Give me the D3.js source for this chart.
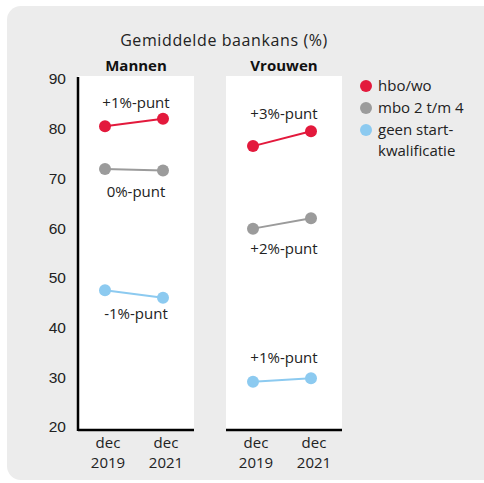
<!DOCTYPE html>
<html>
<head>
<meta charset="utf-8">
<script src="https://cdn.jsdelivr.net/npm/d3@7"></script>
<style>
  body { margin: 0; background: #fff; }
  svg { display: block; font-family: "Open Sans", "DejaVu Sans", sans-serif; }
</style>
</head>
<body>
<div id="chart"></div>
<script>
"use strict";

const groups = ["Mannen", "Vrouwen"];
const periods = ["dec 2019", "dec 2021"];
const series = ["hbo/wo", "mbo 2 t/m 4", "geen startkwalificatie"];
const legendLabels = [["hbo/wo"], ["mbo 2 t/m 4"], ["geen start-", "kwalificatie"]];
const colors = ["#e3193c", "#9b9b9b", "#8ccaf0"];
const mannenValues = [[80.5, 82.0], [71.9, 71.6], [47.5, 46.0]];
const vrouwenValues = [[76.5, 79.5], [59.9, 62.0], [29.1, 29.8]];
const mannenChanges = ["+1%-punt", "0%-punt", "-1%-punt"];
const vrouwenChanges = ["+3%-punt", "+2%-punt", "+1%-punt"];
const yTicks = [20, 30, 40, 50, 60, 70, 80, 90];

const width = 484, height = 483;

const svg = d3.select("#chart").append("svg")
    .attr("width", width)
    .attr("height", height);

svg.append("rect")
    .attr("x", 7).attr("y", 6)
    .attr("width", 500).attr("height", 474)
    .attr("rx", 14)
    .attr("fill", "#ececec");

const y = d3.scaleLinear().domain([20, 90]).range([427, 79]);
const panelX = d3.scaleBand().domain(groups).range([78, 342]).paddingInner(32 / 148);

svg.append("text")
    .attr("x", 224).attr("y", 46)
    .attr("text-anchor", "middle")
    .attr("font-size", 16)
    .attr("letter-spacing", 0.6)
    .attr("fill", "#222")
    .text("Gemiddelde baankans (%)");

// y axis
const yAxis = svg.append("g")
    .attr("transform", `translate(${panelX("Mannen")},0)`)
    .call(d3.axisLeft(y).tickValues(yTicks).tickSize(0).tickPadding(12));
yAxis.select(".domain").remove();
yAxis.selectAll("text")
    .attr("font-size", 15.5)
    .attr("fill", "#222")
    .attr("font-family", "inherit");

const panelData = [
    {name: "Mannen", values: mannenValues, changes: mannenChanges, offsets: [-20, 22, 20]},
    {name: "Vrouwen", values: vrouwenValues, changes: vrouwenChanges, offsets: [-25, 26, -22]}
];

panelData.forEach((p, pi) => {
    const x0 = panelX(p.name);
    const bw = panelX.bandwidth();
    const g = svg.append("g").attr("transform", `translate(${x0},0)`);
    const x = d3.scalePoint().domain(periods).range([27, 85]);

    g.append("rect")
        .attr("x", 0).attr("y", 76)
        .attr("width", bw).attr("height", y(20) + 3 - 76)
        .attr("fill", "#fff");

    g.append("text")
        .attr("x", bw / 2).attr("y", 71)
        .attr("text-anchor", "middle")
        .attr("font-size", 15)
        .attr("font-weight", "bold")
        .attr("fill", "#111")
        .text(p.name);

    // bottom axis line
    g.append("line")
        .attr("x1", 0).attr("x2", bw)
        .attr("y1", y(20) + 3).attr("y2", y(20) + 3)
        .attr("stroke", "#000").attr("stroke-width", 2.5);
    if (pi === 0) {
        g.append("line")
            .attr("x1", 0).attr("x2", 0)
            .attr("y1", 77).attr("y2", y(20) + 4)
            .attr("stroke", "#000").attr("stroke-width", 2.5);
    }

    periods.forEach(per => {
        const t = g.append("text")
            .attr("text-anchor", "middle")
            .attr("font-size", 15)
            .attr("fill", "#222");
        per.split(" ").forEach((w, i) => {
            t.append("tspan").attr("x", x(per) + 3).attr("y", 448 + i * 20).text(w);
        });
    });

    const line = d3.line().x((d, i) => x(periods[i])).y(d => y(d));

    p.values.forEach((vals, si) => {
        g.append("path")
            .attr("d", line(vals))
            .attr("fill", "none")
            .attr("stroke", colors[si])
            .attr("stroke-width", 2);
        g.selectAll(null).data(vals).enter().append("circle")
            .attr("cx", (d, i) => x(periods[i]))
            .attr("cy", d => y(d))
            .attr("r", 6)
            .attr("fill", colors[si]);
        const mid = y(d3.mean(vals));
        g.append("text")
            .attr("x", bw / 2)
            .attr("y", mid + p.offsets[si] + 5)
            .attr("text-anchor", "middle")
            .attr("font-size", 15)
            .attr("fill", "#222")
            .text(p.changes[si]);
    });
});

// legend
const legend = svg.append("g").attr("transform", "translate(366,86)");
series.forEach((s, i) => {
    const row = legend.append("g").attr("transform", `translate(0,${i * 22})`);
    row.append("circle").attr("r", 6).attr("fill", colors[i]);
    const t = row.append("text")
        .attr("font-size", 15)
        .attr("fill", "#222");
    legendLabels[i].forEach((w, j) => {
        t.append("tspan").attr("x", 12).attr("y", 5 + j * 21).text(w);
    });
});
</script>
</body>
</html>
